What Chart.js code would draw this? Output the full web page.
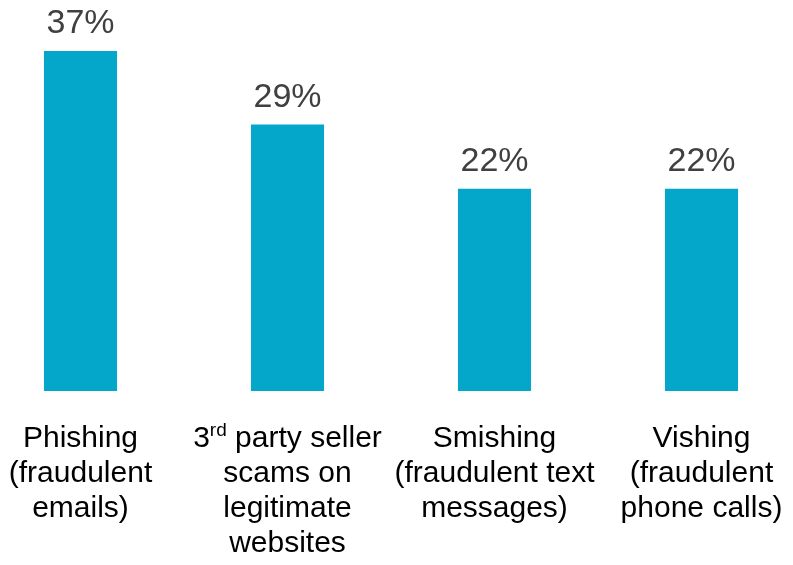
<!DOCTYPE html>
<html>
<head>
<meta charset="utf-8">
<script src="https://cdn.jsdelivr.net/npm/chart.js@4.4.1/dist/chart.umd.min.js"></script>
<style>
  html, body { margin: 0; padding: 0; background: #fff; overflow: hidden; }
  #wrap { position: absolute; left: -23px; top: 0; width: 828px; height: 565px; }
</style>
</head>
<body>
<div id="wrap"><canvas id="myChart" width="828" height="565"></canvas></div>
<script>
// categorias (cada elemento es una linea), ^{..} = superindice
const categorias = [
  ["Phishing", "(fraudulent", "emails)"],
  ["3^{rd} party seller", "scams on", "legitimate", "websites"],
  ["Smishing", "(fraudulent text", "messages)"],
  ["Vishing", "(fraudulent", "phone calls)"]
];
const porcentajes = [37, 29, 22, 22];

const FUENTE = "'Liberation Sans', Arial, sans-serif";

// etiquetas de valor encima de cada barra
const etiquetasValor = {
  id: "etiquetasValor",
  afterDatasetsDraw(chart) {
    const ctx = chart.ctx;
    const meta = chart.getDatasetMeta(0);
    ctx.save();
    ctx.font = "34px " + FUENTE;
    ctx.fillStyle = "#404040";
    ctx.textAlign = "center";
    ctx.textBaseline = "alphabetic";
    meta.data.forEach((bar, i) => {
      ctx.fillText(porcentajes[i] + "%", bar.x, bar.y - 18);
    });
    ctx.restore();
  }
};

// etiquetas de categoria debajo del eje, con soporte de superindice
const etiquetasEje = {
  id: "etiquetasEje",
  afterDraw(chart) {
    const ctx = chart.ctx;
    const xs = chart.scales.x;
    const base = chart.chartArea.bottom + 56;
    const alto = 35;
    ctx.save();
    ctx.fillStyle = "#000";
    ctx.textBaseline = "alphabetic";
    categorias.forEach((lineas, i) => {
      const cx = xs.getPixelForValue(i);
      lineas.forEach((linea, j) => {
        const y = base + j * alto;
        const partes = [];
        const re = /\^\{([^}]*)\}/g;
        let ult = 0, m;
        while ((m = re.exec(linea)) !== null) {
          if (m.index > ult) partes.push({ t: linea.slice(ult, m.index), sup: false });
          partes.push({ t: m[1], sup: true });
          ult = re.lastIndex;
        }
        if (ult < linea.length) partes.push({ t: linea.slice(ult), sup: false });
        let total = 0;
        partes.forEach(p => {
          ctx.font = (p.sup ? "19px " : "30px ") + FUENTE;
          p.w = ctx.measureText(p.t).width;
          total += p.w;
        });
        let x = cx - total / 2;
        ctx.textAlign = "left";
        partes.forEach(p => {
          ctx.font = (p.sup ? "19px " : "30px ") + FUENTE;
          ctx.fillText(p.t, x, p.sup ? y - 11 : y);
          x += p.w;
        });
      });
    });
    ctx.restore();
  }
};

function renderGrafico() {
  const ctx = document.querySelector("#myChart").getContext("2d");
  new Chart(ctx, {
    type: "bar",
    data: {
      labels: categorias.map((c) => c.join(" ")),
      datasets: [
        {
          data: porcentajes,
          backgroundColor: "#04A7CA",
          borderWidth: 0,
          barPercentage: 0.353,
          categoryPercentage: 1
        }
      ]
    },
    options: {
      responsive: false,
      animation: false,
      devicePixelRatio: 1,
      layout: { padding: { top: 51, bottom: 174, left: 0, right: 0 } },
      plugins: { legend: { display: false }, tooltip: { enabled: false } },
      scales: {
        x: { display: false, grid: { display: false } },
        y: { display: false, min: 0, max: 37 }
      }
    },
    plugins: [etiquetasValor, etiquetasEje]
  });
}
renderGrafico();
</script>
</body>
</html>
